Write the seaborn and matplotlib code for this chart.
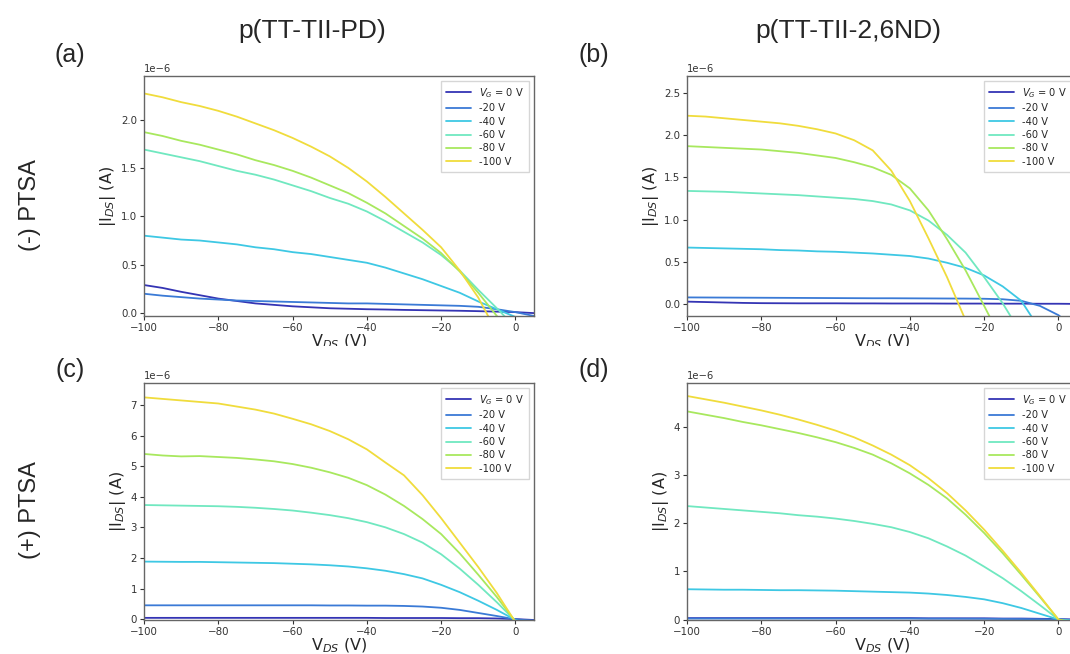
import numpy as np
import pandas as pd
import matplotlib
matplotlib.use("Agg")
import matplotlib.pyplot as plt
from matplotlib.patches import Rectangle
import seaborn as sns

# drain voltage grid (V)
v_ds = [-100, -95, -90, -85, -80, -75, -70, -65, -60, -55, -50,
        -45, -40, -35, -30, -25, -20, -15, -10, -5, 0, 5]

gate_labels = ["$V_G$ = 0 V", "-20 V", "-40 V", "-60 V", "-80 V", "-100 V"]
gate_colors = ["#3434b4", "#3a7ad6", "#3ec8e4", "#70e8c0", "#a8e85e", "#f0dc3c"]

# currents in units of 1e-6 A, one list per gate voltage (0 ... -100 V)
# (a) p(TT-TII-PD), (-) PTSA
a_vg0 = [0.29, 0.26, 0.22, 0.185, 0.15, 0.125, 0.10, 0.085, 0.07, 0.06, 0.05,
         0.045, 0.04, 0.037, 0.033, 0.03, 0.027, 0.024, 0.02, 0.015, 0.01, 0.0]
a_vg20 = [0.20, 0.18, 0.165, 0.15, 0.14, 0.13, 0.125, 0.12, 0.115, 0.11, 0.105,
          0.10, 0.10, 0.095, 0.09, 0.085, 0.08, 0.075, 0.065, 0.04, 0.01, -0.03]
a_vg40 = [0.80, 0.78, 0.76, 0.75, 0.73, 0.71, 0.68, 0.66, 0.63, 0.61, 0.58,
          0.55, 0.52, 0.47, 0.41, 0.35, 0.28, 0.21, 0.12, 0.04, -0.04, -0.10]
a_vg60 = [1.69, 1.65, 1.61, 1.57, 1.52, 1.47, 1.43, 1.38, 1.32, 1.26, 1.19,
          1.13, 1.05, 0.95, 0.84, 0.73, 0.60, 0.44, 0.24, 0.05, -0.15, -0.35]
a_vg80 = [1.87, 1.83, 1.78, 1.74, 1.69, 1.64, 1.58, 1.53, 1.47, 1.40, 1.32,
          1.24, 1.14, 1.03, 0.90, 0.77, 0.62, 0.43, 0.21, -0.03, -0.25, -0.50]
a_vg100 = [2.27, 2.23, 2.18, 2.14, 2.09, 2.03, 1.96, 1.89, 1.81, 1.72, 1.62,
           1.50, 1.36, 1.20, 1.03, 0.86, 0.68, 0.44, 0.16, -0.20, -0.50, -0.80]

# (b) p(TT-TII-2,6ND), (-) PTSA
b_vg0 = [0.03, 0.025, 0.02, 0.015, 0.012, 0.011, 0.01, 0.01, 0.01, 0.009, 0.009,
         0.008, 0.008, 0.008, 0.007, 0.007, 0.007, 0.006, 0.006, 0.005, 0.005, 0.003]
b_vg20 = [0.08, 0.079, 0.078, 0.077, 0.076, 0.075, 0.074, 0.073, 0.072, 0.071, 0.070,
          0.070, 0.069, 0.068, 0.067, 0.066, 0.064, 0.058, 0.04, -0.02, -0.13, -0.30]
b_vg40 = [0.67, 0.665, 0.66, 0.655, 0.65, 0.64, 0.635, 0.625, 0.62, 0.61, 0.60,
          0.585, 0.57, 0.54, 0.49, 0.43, 0.34, 0.21, 0.04, -0.30, -0.65, -1.00]
b_vg60 = [1.34, 1.335, 1.33, 1.32, 1.31, 1.30, 1.29, 1.275, 1.26, 1.245, 1.22,
          1.18, 1.11, 0.99, 0.82, 0.61, 0.32, 0.01, -0.35, -0.70, -1.05, -1.40]
b_vg80 = [1.87, 1.86, 1.85, 1.84, 1.83, 1.81, 1.79, 1.76, 1.73, 1.68, 1.62,
          1.53, 1.37, 1.11, 0.77, 0.40, -0.02, -0.45, -0.90, -1.35, -1.80, -2.25]
b_vg100 = [2.23, 2.22, 2.20, 2.18, 2.16, 2.14, 2.11, 2.07, 2.02, 1.94, 1.82,
           1.58, 1.22, 0.78, 0.32, -0.19, -0.70, -1.20, -1.70, -2.20, -2.70, -3.20]

# (c) p(TT-TII-PD), (+) PTSA
c_vg0 = [0.04, 0.04, 0.04, 0.04, 0.04, 0.04, 0.04, 0.04, 0.04, 0.04, 0.04,
         0.04, 0.04, 0.035, 0.035, 0.035, 0.035, 0.03, 0.03, 0.02, 0.0, -0.03]
c_vg20 = [0.45, 0.45, 0.45, 0.45, 0.45, 0.45, 0.45, 0.45, 0.45, 0.45, 0.445,
          0.445, 0.44, 0.44, 0.43, 0.41, 0.37, 0.30, 0.20, 0.10, -0.01, -0.05]
c_vg40 = [1.88, 1.875, 1.87, 1.87, 1.86, 1.85, 1.84, 1.83, 1.81, 1.79, 1.76,
          1.72, 1.66, 1.58, 1.47, 1.33, 1.12, 0.88, 0.60, 0.30, -0.03, -0.20]
c_vg60 = [3.73, 3.72, 3.71, 3.70, 3.69, 3.67, 3.64, 3.60, 3.55, 3.48, 3.40,
          3.30, 3.17, 3.00, 2.78, 2.50, 2.12, 1.65, 1.12, 0.55, -0.06, -0.40]
c_vg80 = [5.40, 5.35, 5.32, 5.33, 5.30, 5.27, 5.22, 5.16, 5.07, 4.95, 4.80,
          4.62, 4.38, 4.07, 3.70, 3.27, 2.78, 2.15, 1.45, 0.72, -0.08, -0.50]
c_vg100 = [7.25, 7.20, 7.15, 7.10, 7.05, 6.95, 6.85, 6.72, 6.55, 6.37, 6.15,
           5.88, 5.55, 5.12, 4.70, 4.05, 3.30, 2.50, 1.70, 0.85, -0.10, -0.60]

# (d) p(TT-TII-2,6ND), (+) PTSA
d_vg0 = [0.03, 0.03, 0.03, 0.03, 0.03, 0.03, 0.03, 0.03, 0.03, 0.03, 0.03,
         0.03, 0.03, 0.025, 0.025, 0.025, 0.025, 0.02, 0.02, 0.015, 0.01, 0.0]
d_vg20 = [0.02, 0.02, 0.02, 0.02, 0.02, 0.02, 0.02, 0.02, 0.02, 0.02, 0.02,
          0.02, 0.02, 0.018, 0.018, 0.016, 0.015, 0.012, 0.01, 0.005, 0.0, -0.01]
d_vg40 = [0.63, 0.625, 0.62, 0.62, 0.615, 0.61, 0.61, 0.605, 0.60, 0.59, 0.58,
          0.57, 0.56, 0.54, 0.51, 0.47, 0.42, 0.34, 0.24, 0.12, 0.0, -0.02]
d_vg60 = [2.36, 2.33, 2.30, 2.27, 2.24, 2.21, 2.17, 2.14, 2.10, 2.05, 1.99,
          1.92, 1.82, 1.69, 1.52, 1.33, 1.10, 0.86, 0.59, 0.30, 0.0, -0.05]
d_vg80 = [4.33, 4.26, 4.19, 4.11, 4.04, 3.96, 3.88, 3.79, 3.69, 3.57, 3.43,
          3.25, 3.04, 2.80, 2.52, 2.18, 1.80, 1.38, 0.93, 0.47, 0.0, -0.10]
d_vg100 = [4.65, 4.58, 4.51, 4.43, 4.35, 4.26, 4.16, 4.05, 3.93, 3.79, 3.62,
           3.43, 3.21, 2.94, 2.63, 2.27, 1.87, 1.43, 0.97, 0.49, 0.0, -0.10]

panels = {
    "a": [a_vg0, a_vg20, a_vg40, a_vg60, a_vg80, a_vg100],
    "b": [b_vg0, b_vg20, b_vg40, b_vg60, b_vg80, b_vg100],
    "c": [c_vg0, c_vg20, c_vg40, c_vg60, c_vg80, c_vg100],
    "d": [d_vg0, d_vg20, d_vg40, d_vg60, d_vg80, d_vg100],
}
ylims = {"a": (-0.03, 2.45), "b": (-0.14, 2.70), "c": (-0.03, 7.72), "d": (-0.01, 4.92)}

sns.set_style("ticks")
plt.rcParams["font.family"] = ["DejaVu Sans"]
plt.rcParams["axes.edgecolor"] = "#666666"
plt.rcParams["xtick.color"] = "#333333"
plt.rcParams["ytick.color"] = "#333333"

fig = plt.figure(figsize=(10.7, 6.54), dpi=100)
W, H = 1070, 654


def px_axes(left, top, right, bottom):
    return fig.add_axes([left / W, 1 - bottom / H, (right - left) / W, (bottom - top) / H])


boxes = {
    "a": (144, 76, 534, 316),
    "b": (687, 76, 1077, 316),
    "c": (144, 383, 534, 620),
    "d": (687, 383, 1077, 620),
}

for key, box in boxes.items():
    ax = px_axes(*box)
    if key in ("c", "d"):
        ax.set_zorder(2)
    for label, color, vals in zip(gate_labels, gate_colors, panels[key]):
        df = pd.DataFrame({"V_DS": v_ds, "I_DS": np.array(vals) * 1e-6})
        sns.lineplot(data=df, x="V_DS", y="I_DS", ax=ax, color=color,
                     linewidth=1.3, label=label)
    ax.set_xlim(-100, 5)
    ax.set_ylim(ylims[key][0] * 1e-6, ylims[key][1] * 1e-6)
    ax.set_xticks([-100, -80, -60, -40, -20, 0])
    ax.tick_params(labelsize=7.4, length=3, width=0.8, pad=2)
    ax.yaxis.get_offset_text().set_fontsize(7.2)
    ax.set_xlabel("V$_{DS}$ (V)", fontsize=11.5, labelpad=0)
    ax.set_ylabel("|I$_{DS}$| (A)", fontsize=11.5, labelpad=2)
    for sp in ax.spines.values():
        sp.set_linewidth(1.0)
        sp.set_visible(True)
    ax.legend(loc="upper right", fontsize=7.1, frameon=True, handlelength=2.6,
              labelspacing=0.35, borderpad=0.5, fancybox=False, edgecolor="#cccccc")

# bottom row covers the lower half of the top row's x labels
fig.patches.append(Rectangle((0, 1 - 380 / H), 1, 34 / H, transform=fig.transFigure,
                             facecolor="white", edgecolor="none", zorder=1))

title_font = ["Liberation Sans", "DejaVu Sans"]
fig.text(312 / W, 1 - 31 / H, "p(TT-TII-PD)", fontsize=19, ha="center", va="center",
         family=title_font)
fig.text(848 / W, 1 - 31 / H, "p(TT-TII-2,6ND)", fontsize=19, ha="center", va="center",
         family=title_font)
for lab, x, y in [("(a)", 70, 55), ("(b)", 594, 55), ("(c)", 70, 370), ("(d)", 594, 370)]:
    fig.text(x / W, 1 - y / H, lab, fontsize=18, ha="center", va="center",
             family=title_font, zorder=5)
fig.text(30 / W, 1 - 205 / H, "(-) PTSA", fontsize=17, rotation=90, ha="center",
         va="center", family=title_font)
fig.text(30 / W, 1 - 510 / H, "(+) PTSA", fontsize=17, rotation=90, ha="center",
         va="center", family=title_font)

fig.savefig("out.png", dpi=100, facecolor="white")
